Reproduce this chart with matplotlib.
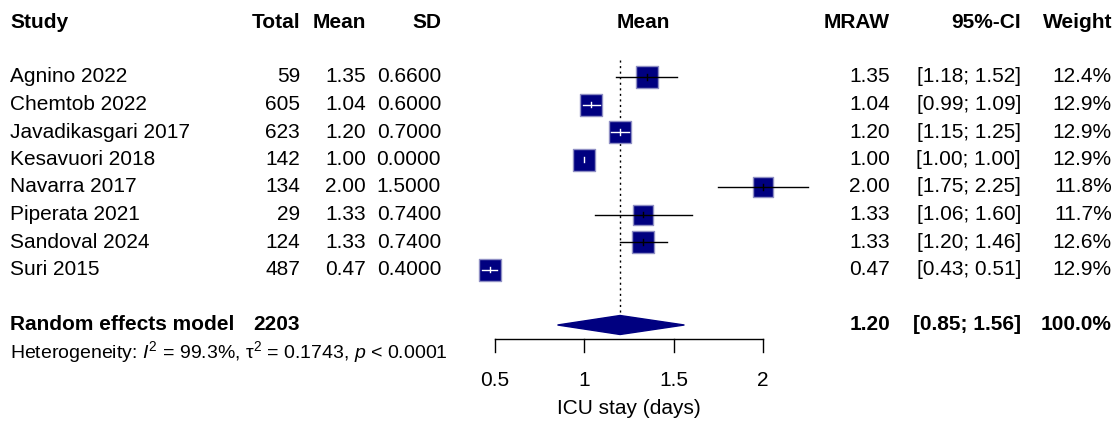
import matplotlib
matplotlib.use("Agg")
import matplotlib.pyplot as plt
from matplotlib.transforms import blended_transform_factory

# data
studies = ["Agnino 2022", "Chemtob 2022", "Javadikasgari 2017", "Kesavuori 2018",
           "Navarra 2017", "Piperata 2021", "Sandoval 2024", "Suri 2015"]
totals = [59, 605, 623, 142, 134, 29, 124, 487]
means = [1.35, 1.04, 1.20, 1.00, 2.00, 1.33, 1.33, 0.47]
sds = [0.66, 0.60, 0.70, 0.00, 1.50, 0.74, 0.74, 0.40]
ci_lo = [1.18, 0.99, 1.15, 1.00, 1.75, 1.06, 1.20, 0.43]
ci_hi = [1.52, 1.09, 1.25, 1.00, 2.25, 1.60, 1.46, 0.51]
weights = [12.4, 12.9, 12.9, 12.9, 11.8, 11.7, 12.6, 12.9]

pooled_n = 2203
pooled_mean = 1.20
pooled_lo = 0.85
pooled_hi = 1.56
het_text = r"Heterogeneity: $I^2$ = 99.3%, $\mathrm{\tau}^2$ = 0.1743, $p$ < 0.0001"
xticks = [0.5, 1, 1.5, 2]
xlabel = "ICU stay (days)"

plt.rcParams['font.family'] = ['Liberation Sans', 'DejaVu Sans']
plt.rcParams['mathtext.fontset'] = 'custom'
plt.rcParams['mathtext.rm'] = 'Liberation Sans'
plt.rcParams['mathtext.it'] = 'Liberation Sans:italic'
plt.rcParams['mathtext.bf'] = 'Liberation Sans:bold'

W, H = 1119, 424
fig = plt.figure(figsize=(W / 100, H / 100), dpi=100)
ax = fig.add_axes([0, 0, 1, 1])
ax.axis('off')

# pixel layout: x=0.5 at 495px, x=2 at 763px ; row 0 at 77px, 27.5px per row
pxu = (763 - 495) / 1.5
ax.set_xlim(0.5 - 495 / pxu, 0.5 + (W - 495) / pxu)
row_px = 27.5
ax.set_ylim((H - 77) / row_px, -77 / row_px)

def row(py):
    return (py - 77) / row_px

tr = blended_transform_factory(ax.transAxes, ax.transData)
fs = 15
navy = '#000080'

def put(px, y, s, ha='left', bold=False, **kw):
    ax.text(px / W, y, s, transform=tr, ha=ha, va='center', fontsize=fs,
            fontweight='bold' if bold else 'normal', **kw)

# headers
hy = row(22)
put(10, hy, "Study", bold=True)
put(300, hy, "Total", ha='right', bold=True)
put(366, hy, "Mean", ha='right', bold=True)
put(441, hy, "SD", ha='right', bold=True)
put(643, hy, "Mean", ha='center', bold=True)
put(890, hy, "MRAW", ha='right', bold=True)
put(1021, hy, "95%-CI", ha='right', bold=True)
put(1112, hy, "Weight", ha='right', bold=True)

# study rows
for i in range(len(studies)):
    put(10, i, studies[i])
    put(300, i, str(totals[i]), ha='right')
    put(366, i, "%.2f" % means[i], ha='right')
    put(441, i, "%.4f" % sds[i], ha='right')
    put(890, i, "%.2f" % means[i], ha='right')
    put(1021, i, "[%.2f; %.2f]" % (ci_lo[i], ci_hi[i]), ha='right')
    put(1112, i, "%.1f%%" % weights[i], ha='right')

    side = 22 * weights[i] / 12.9  # square side in px
    ax.scatter([means[i]], [i], marker='s', s=(side * 0.72) ** 2, color=navy,
               edgecolors='#8f8fc4', linewidths=1.0, zorder=3)
    inside = (ci_hi[i] - ci_lo[i]) * pxu < side
    lc = 'white' if inside else 'black'
    ax.plot([ci_lo[i], ci_hi[i]], [i, i], color=lc, lw=1, zorder=4)
    ax.plot([means[i], means[i]], [i - 0.1, i + 0.1], color=lc, lw=1, zorder=4)

# pooled row
py = row(325)
put(10, py, "Random effects model", bold=True)
put(300, py, str(pooled_n), ha='right', bold=True)
put(890, py, "%.2f" % pooled_mean, ha='right', bold=True)
put(1021, py, "[%.2f; %.2f]" % (pooled_lo, pooled_hi), ha='right', bold=True)
put(1112, py, "%.1f%%" % 100.0, ha='right', bold=True)
dh = 9.5 / row_px
ax.fill([pooled_lo, pooled_mean, pooled_hi, pooled_mean],
        [py, py - dh, py, py + dh], color=navy, zorder=3)

# heterogeneity
ax.text(10 / W, row(352), het_text, transform=tr, ha='left', va='center', fontsize=14)

# reference line at pooled mean
ax.plot([pooled_mean, pooled_mean], [row(60), row(315)], color='black', lw=1,
        linestyle=(0, (1.5, 2.5)), zorder=2)

# x axis
ay = row(339)
ax.plot([xticks[0], xticks[-1]], [ay, ay], color='black', lw=1)
for t in xticks:
    ax.plot([t, t], [ay, row(352)], color='black', lw=1)
    ax.text(t, row(381), "%g" % t, ha='center', va='center', fontsize=fs)
ax.text((xticks[0] + xticks[-1]) / 2, row(408), xlabel, ha='center', va='center', fontsize=fs)

fig.savefig("out.png", dpi=100)
